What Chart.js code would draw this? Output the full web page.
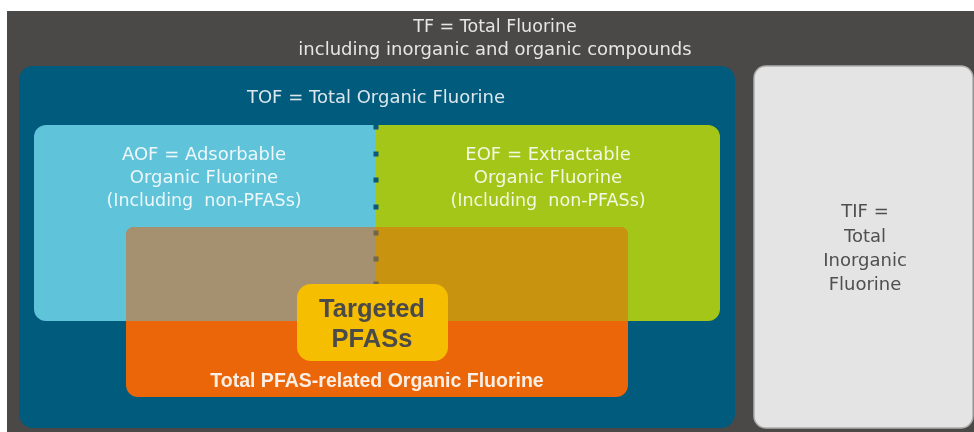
<!DOCTYPE html>
<html>
<head>
<meta charset="utf-8">
<script src="https://cdn.jsdelivr.net/npm/chart.js@4"></script>
<style>
  html, body { margin: 0; padding: 0; background: #fff; }
  #wrap { width: 974px; height: 432px; }
</style>
</head>
<body>
<div id="wrap"><canvas id="fluorineChart" width="974" height="432"></canvas></div>
<script>
// boxes of the diagram, in diagram units (0..974 across, 0..432 down)
const boxNames  = ['TF', 'TOF', 'TIF', 'AOF', 'EOF', 'PFAS', 'AOF+PFAS', 'EOF+PFAS', 'Targeted'];
const boxLeft   = [7, 19, 754, 34, 376, 126, 126, 376, 297];
const boxRight  = [974, 735, 973, 376, 720, 628, 376, 628, 448];
const boxTop    = [11, 66, 66, 125, 125, 227, 227, 227, 284];
const boxBottom = [432, 428, 428, 321, 321, 397, 321, 321, 361];

// dotted divider between AOF and EOF
const dividerX = 376;
const dividerY = [127, 154, 180, 207, 233, 259, 284];

// texts, one entry per block of lines
const labelTexts = [
    ['TF = Total Fluorine', 'including inorganic and organic compounds'],
    ['TOF = Total Organic Fluorine'],
    ['AOF = Adsorbable', 'Organic Fluorine', '(Including  non-PFASs)'],
    ['EOF = Extractable', 'Organic Fluorine', '(Including  non-PFASs)'],
    ['TIF =', 'Total', 'Inorganic', 'Fluorine'],
    ['Targeted', 'PFASs'],
    ['Total PFAS-related Organic Fluorine']
];

const boxStyle = {
    'TF':       { fill: '#4a4948', radius: 0 },
    'TOF':      { fill: '#015b7c', radius: 14 },
    'TIF':      { fill: '#e4e4e4', radius: 12, stroke: '#adadad' },
    'AOF':      { fill: '#5fc3da', radius: [12, 0, 0, 12] },
    'EOF':      { fill: '#a3c618', radius: [0, 12, 12, 0] },
    'PFAS':     { fill: '#eb6608', radius: [8, 8, 12, 12] },
    'AOF+PFAS': { fill: '#a5916f', radius: [8, 0, 0, 0] },
    'EOF+PFAS': { fill: '#c8930f', radius: [0, 8, 0, 0] },
    'Targeted': { fill: '#f5be00', radius: 14 }
};

const regular = '"DejaVu Sans", Verdana, sans-serif';
const bold = '"Liberation Sans", Arial, sans-serif';
const labelStyle = [
    { x: 495, y: [32, 55], font: ['17.5px ' + regular, '18px ' + regular], color: '#e6e6e6' },
    { x: 376, y: [103], font: ['18px ' + regular], color: '#dbe7ed' },
    { x: 204, y: [160, 183, 206], font: ['18px ' + regular, '18px ' + regular, '17.5px ' + regular], color: '#eef8fb' },
    { x: 548, y: [160, 183, 206], font: ['18px ' + regular, '18px ' + regular, '17.5px ' + regular], color: '#f3f8e2' },
    { x: 865, y: [217, 242, 266, 290], font: ['18px ' + regular], color: '#4f4f4f' },
    { x: 372, y: [317, 347], font: ['bold 25.5px ' + bold], color: '#4a4a4a' },
    { x: 377, y: [387], font: ['bold 19.5px ' + bold], color: '#fbeee4' }
];

const diagramPlugin = {
    id: 'diagram',
    beforeDatasetsDraw(chart) {
        const { ctx, scales: { x, y } } = chart;
        ctx.save();
        boxNames.forEach(function(name, i) {
            const st = boxStyle[name];
            const x0 = x.getPixelForValue(boxLeft[i]);
            const x1 = x.getPixelForValue(boxRight[i]);
            const y0 = y.getPixelForValue(boxTop[i]);
            const y1 = y.getPixelForValue(boxBottom[i]);
            ctx.beginPath();
            ctx.roundRect(x0, y0, x1 - x0, y1 - y0, st.radius);
            ctx.fillStyle = st.fill;
            ctx.fill();
            if (st.stroke) {
                ctx.lineWidth = 1.5;
                ctx.strokeStyle = st.stroke;
                ctx.stroke();
            }
            // divider squares go on top of the overlaps, under the targeted box
            if (name === 'EOF+PFAS') {
                dividerY.forEach(function(v) {
                    ctx.fillStyle = v < boxTop[5] ? '#0b5878' : '#72654f';
                    ctx.fillRect(x.getPixelForValue(dividerX) - 2.5, y.getPixelForValue(v) - 2.5, 5, 5);
                });
            }
        });

        ctx.textAlign = 'center';
        ctx.textBaseline = 'alphabetic';
        labelTexts.forEach(function(lines, i) {
            const st = labelStyle[i];
            ctx.fillStyle = st.color;
            lines.forEach(function(line, j) {
                ctx.font = st.font[Math.min(j, st.font.length - 1)];
                ctx.fillText(line, x.getPixelForValue(st.x), y.getPixelForValue(st.y[j]));
            });
        });
        ctx.restore();
    }
};

new Chart(document.getElementById('fluorineChart').getContext('2d'), {
    type: 'scatter',
    data: { datasets: [] },
    options: {
        responsive: false,
        animation: false,
        layout: { padding: 0 },
        plugins: {
            legend: { display: false },
            tooltip: { enabled: false }
        },
        scales: {
            x: { type: 'linear', min: 0, max: 974, display: false },
            y: { type: 'linear', min: 0, max: 432, reverse: true, display: false }
        }
    },
    plugins: [diagramPlugin]
});
</script>
</body>
</html>
